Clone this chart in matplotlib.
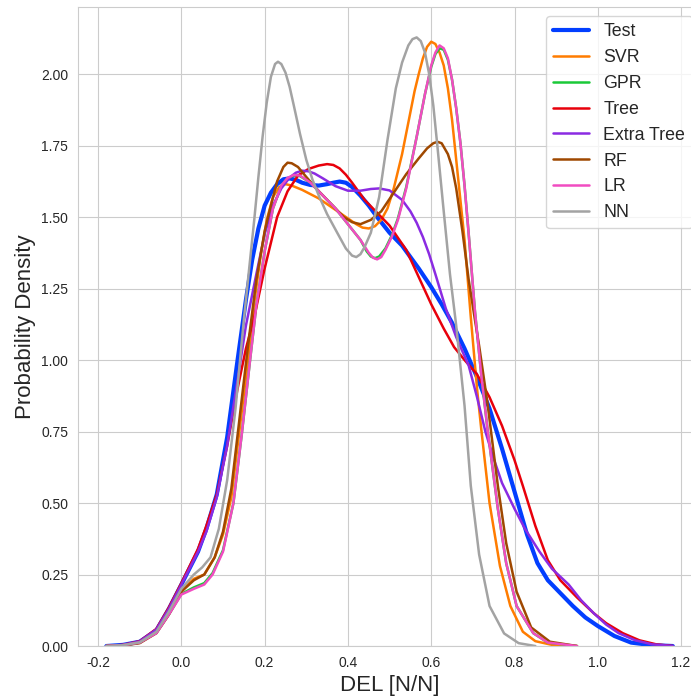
import numpy as np
import matplotlib
matplotlib.use("Agg")
import matplotlib.pyplot as plt
import seaborn as sns

sns.set_style("whitegrid")
plt.rcParams['font.family'] = ['Liberation Sans', 'DejaVu Sans']

# density curves (x = DEL, y = density)
test_x = [-0.18, -0.14, -0.10, -0.06, -0.03, 0.0, 0.04, 0.06, 0.085, 0.11, 0.135, 0.155, 0.17, 0.185, 0.20,
          0.215, 0.23, 0.245, 0.26, 0.275, 0.29, 0.31, 0.33, 0.35, 0.365, 0.38, 0.395, 0.41, 0.43, 0.45,
          0.47, 0.50, 0.53, 0.57, 0.60, 0.625, 0.65, 0.68, 0.71, 0.74, 0.77, 0.80, 0.83, 0.855, 0.88, 0.91,
          0.94, 0.97, 1.00, 1.04, 1.08, 1.13, 1.18]
test_y = [0.0, 0.004, 0.015, 0.055, 0.13, 0.215, 0.33, 0.41, 0.53, 0.73, 1.0, 1.21, 1.35, 1.46, 1.54,
          1.585, 1.615, 1.632, 1.635, 1.63, 1.62, 1.612, 1.61, 1.615, 1.62, 1.624, 1.62, 1.605, 1.575, 1.54,
          1.5, 1.445, 1.40, 1.32, 1.255, 1.195, 1.13, 1.04, 0.94, 0.83, 0.69, 0.54, 0.39, 0.29, 0.23, 0.185,
          0.14, 0.1, 0.07, 0.035, 0.012, 0.003, 0.0]

svr_x = [-0.18, -0.14, -0.10, -0.06, -0.03, 0.0, 0.03, 0.055, 0.08, 0.10, 0.12, 0.14, 0.16, 0.175, 0.19,
         0.205, 0.22, 0.235, 0.25, 0.265, 0.29, 0.33, 0.36, 0.40, 0.42, 0.435, 0.45, 0.465, 0.48, 0.495,
         0.51, 0.53, 0.545, 0.56, 0.57, 0.58, 0.59, 0.60, 0.61, 0.62, 0.63, 0.64, 0.65, 0.66, 0.67, 0.68,
         0.695, 0.71, 0.72, 0.74, 0.765, 0.79, 0.82, 0.85, 0.89, 0.95]
svr_y = [0.0, 0.003, 0.013, 0.05, 0.12, 0.195, 0.235, 0.25, 0.31, 0.39, 0.52, 0.76, 1.0, 1.2, 1.36,
         1.49, 1.57, 1.605, 1.615, 1.61, 1.595, 1.565, 1.535, 1.495, 1.475, 1.463, 1.46, 1.468, 1.49, 1.53,
         1.6, 1.72, 1.83, 1.94, 2.0, 2.055, 2.095, 2.113, 2.105, 2.075, 2.03, 1.95, 1.84, 1.70, 1.56, 1.42,
         1.15, 0.90, 0.76, 0.50, 0.28, 0.14, 0.05, 0.017, 0.004, 0.0]

lr_x = [-0.18, -0.14, -0.10, -0.06, -0.03, 0.0, 0.03, 0.055, 0.075, 0.10, 0.125, 0.145, 0.165, 0.18, 0.20,
        0.22, 0.24, 0.255, 0.27, 0.285, 0.31, 0.34, 0.37, 0.40, 0.43, 0.45, 0.46, 0.47, 0.48, 0.49, 0.505,
        0.52, 0.54, 0.565, 0.585, 0.60, 0.61, 0.62, 0.63, 0.64, 0.65, 0.66, 0.67, 0.68, 0.69, 0.705, 0.72,
        0.735, 0.76, 0.78, 0.805, 0.845, 0.88, 0.95]
lr_y = [0.0, 0.003, 0.012, 0.045, 0.11, 0.18, 0.2, 0.215, 0.25, 0.33, 0.50, 0.74, 1.0, 1.19, 1.38,
        1.53, 1.61, 1.637, 1.647, 1.645, 1.62, 1.575, 1.53, 1.475, 1.42, 1.375, 1.358, 1.352, 1.36, 1.385, 1.43,
        1.49, 1.60, 1.78, 1.93, 2.03, 2.075, 2.10, 2.09, 2.055, 1.98, 1.88, 1.76, 1.61, 1.44, 1.17, 0.95,
        0.76, 0.48, 0.29, 0.14, 0.045, 0.012, 0.0]

gpr_x = [-0.18, -0.14, -0.10, -0.06, -0.03, 0.0, 0.03, 0.055, 0.075, 0.10, 0.125, 0.145, 0.165, 0.18, 0.20,
         0.22, 0.24, 0.255, 0.27, 0.285, 0.31, 0.34, 0.37, 0.40, 0.43, 0.445, 0.455, 0.465, 0.475, 0.49, 0.505,
         0.52, 0.54, 0.565, 0.585, 0.60, 0.61, 0.62, 0.63, 0.64, 0.65, 0.66, 0.67, 0.68, 0.69, 0.705, 0.72,
         0.735, 0.76, 0.78, 0.805, 0.845, 0.88, 0.95]
gpr_y = [0.0, 0.003, 0.012, 0.046, 0.11, 0.182, 0.205, 0.22, 0.255, 0.335, 0.50, 0.74, 1.0, 1.19, 1.38,
         1.53, 1.61, 1.635, 1.645, 1.643, 1.62, 1.575, 1.53, 1.475, 1.42, 1.38, 1.362, 1.356, 1.362, 1.39, 1.435,
         1.495, 1.605, 1.78, 1.93, 2.025, 2.07, 2.09, 2.085, 2.05, 1.98, 1.88, 1.76, 1.61, 1.44, 1.17, 0.95,
         0.76, 0.48, 0.29, 0.14, 0.045, 0.012, 0.0]

tree_x = [-0.18, -0.14, -0.10, -0.06, -0.03, 0.0, 0.04, 0.06, 0.085, 0.11, 0.135, 0.155, 0.175, 0.20, 0.23,
          0.255, 0.28, 0.305, 0.33, 0.35, 0.365, 0.38, 0.395, 0.41, 0.44, 0.47, 0.50, 0.54, 0.57, 0.60,
          0.63, 0.655, 0.68, 0.71, 0.74, 0.77, 0.80, 0.82, 0.85, 0.88, 0.91, 0.95, 0.99, 1.02, 1.06, 1.10,
          1.14, 1.18]
tree_y = [0.0, 0.004, 0.017, 0.06, 0.135, 0.22, 0.34, 0.42, 0.53, 0.70, 0.9, 1.04, 1.15, 1.32, 1.50,
          1.59, 1.645, 1.668, 1.68, 1.685, 1.682, 1.67, 1.648, 1.62, 1.56, 1.515, 1.47, 1.385, 1.29, 1.195,
          1.11, 1.045, 1.0, 0.95, 0.87, 0.77, 0.65, 0.56, 0.42, 0.30, 0.23, 0.17, 0.115, 0.08, 0.045, 0.02,
          0.006, 0.0]

extra_x = [-0.18, -0.14, -0.10, -0.06, -0.03, 0.0, 0.04, 0.06, 0.085, 0.11, 0.135, 0.155, 0.18, 0.20, 0.22,
           0.24, 0.26, 0.275, 0.29, 0.305, 0.32, 0.34, 0.37, 0.40, 0.43, 0.455, 0.475, 0.50, 0.53, 0.55,
           0.565, 0.58, 0.595, 0.61, 0.635, 0.66, 0.69, 0.71, 0.73, 0.75, 0.77, 0.80, 0.825, 0.86, 0.89, 0.93,
           0.96, 0.99, 1.02, 1.05, 1.09, 1.13, 1.18]
extra_y = [0.0, 0.004, 0.016, 0.058, 0.13, 0.215, 0.33, 0.40, 0.52, 0.70, 0.93, 1.12, 1.30, 1.44, 1.54,
           1.60, 1.638, 1.655, 1.662, 1.66, 1.652, 1.635, 1.608, 1.592, 1.592, 1.598, 1.6, 1.593, 1.56, 1.52,
           1.48, 1.43, 1.37, 1.30, 1.18, 1.08, 0.98, 0.87, 0.75, 0.655, 0.57, 0.48, 0.41, 0.33, 0.27, 0.215,
           0.16, 0.115, 0.075, 0.045, 0.02, 0.006, 0.0]

rf_x = [-0.18, -0.14, -0.10, -0.06, -0.03, 0.0, 0.03, 0.055, 0.08, 0.10, 0.12, 0.14, 0.16, 0.18, 0.20,
        0.215, 0.23, 0.245, 0.255, 0.265, 0.28, 0.30, 0.33, 0.36, 0.39, 0.41, 0.43, 0.455, 0.48, 0.51,
        0.54, 0.57, 0.59, 0.605, 0.615, 0.625, 0.64, 0.65, 0.66, 0.675, 0.69, 0.705, 0.715, 0.735, 0.76,
        0.78, 0.805, 0.84, 0.885, 0.95]
rf_y = [0.0, 0.002, 0.01, 0.045, 0.11, 0.19, 0.23, 0.25, 0.31, 0.40, 0.55, 0.80, 1.05, 1.28, 1.45,
        1.54, 1.625, 1.675, 1.69, 1.688, 1.675, 1.64, 1.59, 1.545, 1.50, 1.482, 1.475, 1.49, 1.52, 1.585,
        1.65, 1.705, 1.74, 1.758, 1.763, 1.758, 1.72, 1.675, 1.60, 1.45, 1.28, 1.14, 1.05, 0.85, 0.56,
        0.36, 0.19, 0.065, 0.015, 0.0]

nn_x = [-0.18, -0.14, -0.10, -0.06, -0.03, 0.0, 0.03, 0.05, 0.07, 0.09, 0.11, 0.13, 0.15, 0.165, 0.175,
        0.185, 0.195, 0.205, 0.215, 0.225, 0.232, 0.24, 0.25, 0.26, 0.27, 0.285, 0.30, 0.315, 0.33, 0.35,
        0.375, 0.395, 0.41, 0.42, 0.43, 0.44, 0.455, 0.475, 0.495, 0.515, 0.53, 0.545, 0.555, 0.565, 0.575,
        0.585, 0.595, 0.605, 0.615, 0.63, 0.645, 0.66, 0.68, 0.695, 0.715, 0.74, 0.775, 0.81, 0.85]
nn_y = [0.0, 0.003, 0.013, 0.05, 0.12, 0.2, 0.25, 0.275, 0.31, 0.41, 0.58, 0.83, 1.14, 1.35, 1.49,
        1.64, 1.78, 1.90, 1.99, 2.035, 2.043, 2.035, 2.005, 1.955, 1.89, 1.79, 1.70, 1.63, 1.575, 1.51,
        1.443, 1.39, 1.365, 1.36, 1.37, 1.395, 1.445, 1.57, 1.77, 1.95, 2.04, 2.1, 2.122, 2.128, 2.115,
        2.075, 2.0, 1.89, 1.745, 1.52, 1.30, 1.12, 0.84, 0.56, 0.32, 0.14, 0.044, 0.01, 0.0]

names = ['Test', 'SVR', 'GPR', 'Tree', 'Extra Tree', 'RF', 'LR', 'NN']
xs = [test_x, svr_x, gpr_x, tree_x, extra_x, rf_x, lr_x, nn_x]
ys = [test_y, svr_y, gpr_y, tree_y, extra_y, rf_y, lr_y, nn_y]
colors = sns.color_palette("bright", 8)

fig = plt.figure(figsize=(6.91, 6.96), dpi=100)
ax = fig.add_axes([0.113, 0.0718, 0.9016, 0.918])

for name, x, y, c in zip(names, xs, ys, colors):
    lw = 3 if name == 'Test' else 1.8
    ax.plot(x, y, color=c, lw=lw, label=name, solid_joinstyle='round')

ax.set_xlim(-0.248, 1.248)
ax.set_ylim(0, 2.234)
ax.set_xticks(np.arange(-0.2, 1.21, 0.2))
ax.set_yticks(np.arange(0, 2.01, 0.25))
ax.xaxis.set_major_formatter(matplotlib.ticker.FormatStrFormatter('%.1f'))
ax.yaxis.set_major_formatter(matplotlib.ticker.FormatStrFormatter('%.2f'))
ax.tick_params(labelsize=10)
ax.set_xlabel('DEL [N/N]', fontsize=16)
ax.set_ylabel('Probability Density', fontsize=16)
ax.legend(loc='upper right', fontsize=12.8)

fig.savefig('out.png', dpi=100)
